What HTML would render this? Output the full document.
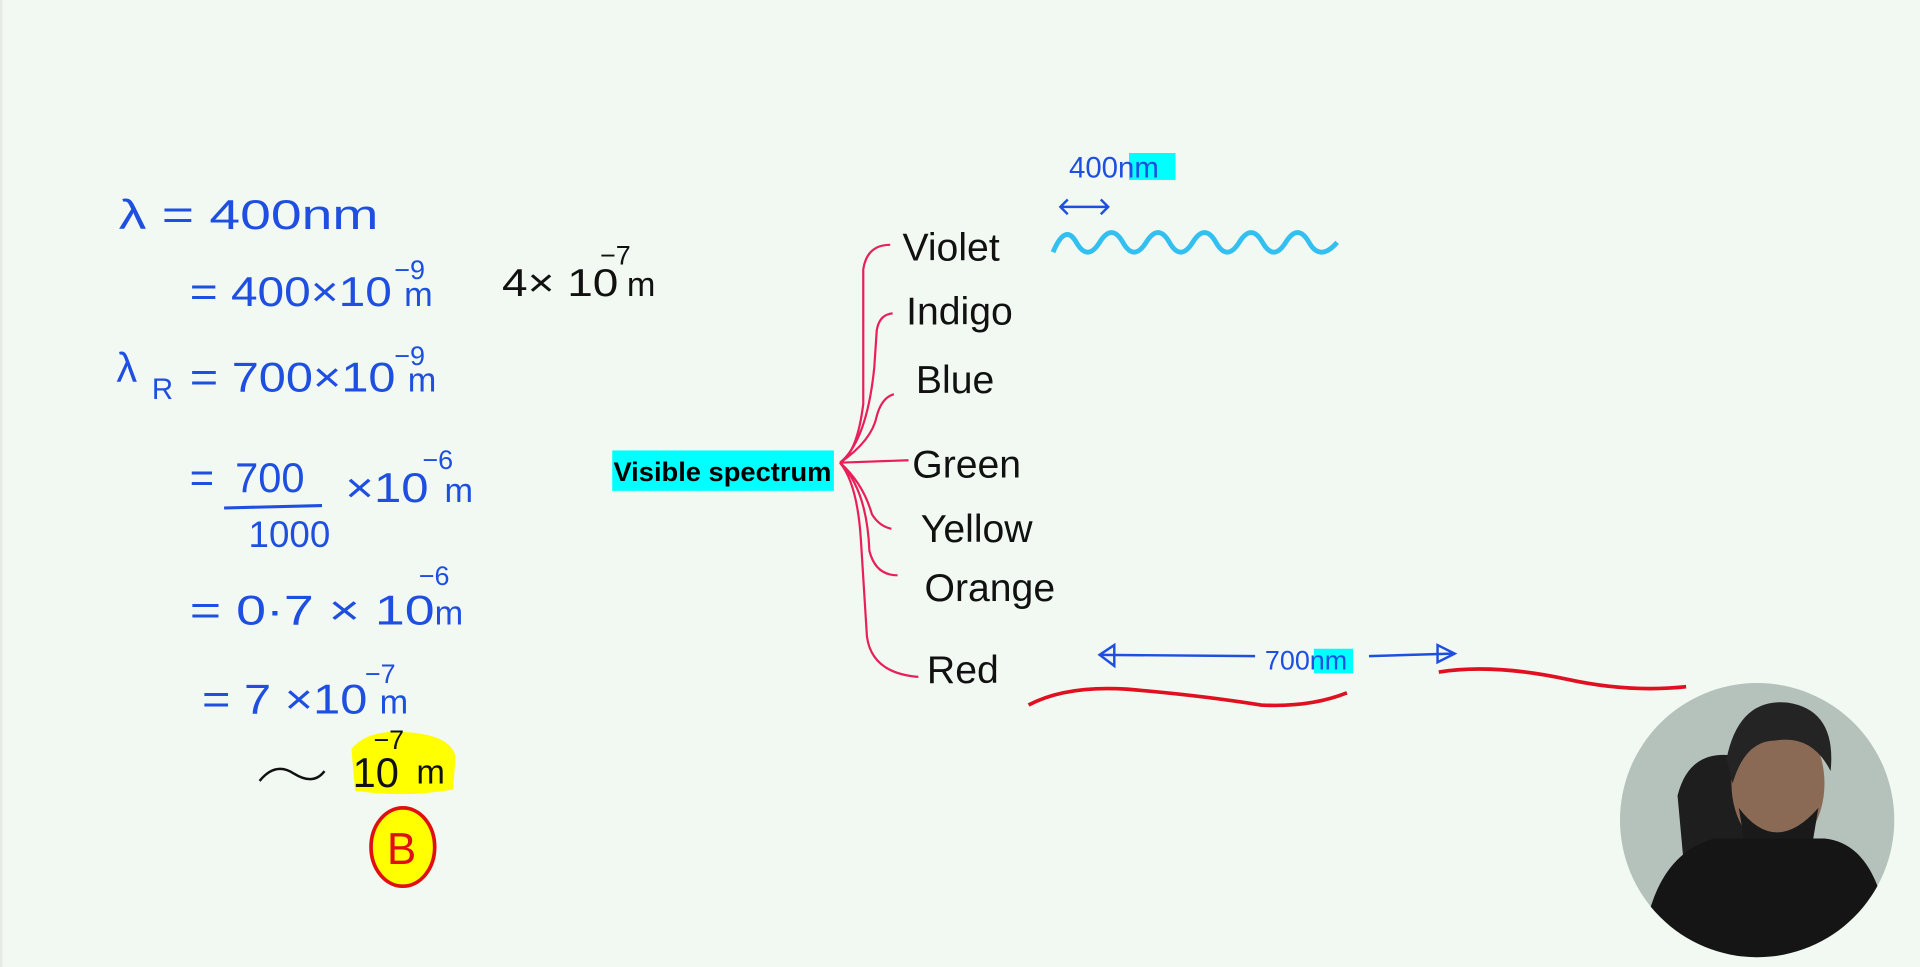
<!DOCTYPE html>
<html><head><meta charset="utf-8"><style>
html,body{margin:0;padding:0;background:#f2f9f2;width:1920px;height:967px;overflow:hidden}
svg{display:block}
.b{fill:#1f4fe0;font-family:"Liberation Sans",sans-serif}
.k{fill:#111;font-family:"Liberation Sans",sans-serif}
</style></head><body>
<svg width="1920" height="967" viewBox="0 0 1568 790" preserveAspectRatio="none" xmlns="http://www.w3.org/2000/svg">
<rect x="0" y="0" width="1568" height="790" fill="#f2f9f2"/>
<rect x="0" y="0" width="2" height="790" fill="#e6ebe6"/>
<g font-size="34">
<text class="b" x="97" y="187" textLength="212" lengthAdjust="spacingAndGlyphs">λ = 400nm</text>
<text class="b" x="155" y="250" textLength="165" lengthAdjust="spacingAndGlyphs">= 400×10</text><text class="b" x="322" y="228" font-size="22">−9</text><text class="b" x="330" y="250" font-size="28">m</text>
<text class="k" x="410" y="242" font-size="32" textLength="95" lengthAdjust="spacingAndGlyphs">4× 10</text><text class="k" x="490" y="216" font-size="22">−7</text><text class="k" x="512" y="242" font-size="28">m</text>
<text class="b" x="95" y="312">λ</text><text class="b" x="124" y="326" font-size="24">R</text>
<text class="b" x="155" y="320" textLength="168" lengthAdjust="spacingAndGlyphs">= 700×10</text><text class="b" x="322" y="298" font-size="22">−9</text><text class="b" x="333" y="320" font-size="28">m</text>
<text class="b" x="155" y="402">=</text><text class="b" x="192" y="402">700</text>
<line x1="183" y1="415" x2="263" y2="413" stroke="#1f4fe0" stroke-width="2.5"/>
<text class="b" x="203" y="447" font-size="30">1000</text>
<text class="b" x="282" y="410" textLength="68" lengthAdjust="spacingAndGlyphs">×10</text><text class="b" x="345" y="383" font-size="22">−6</text><text class="b" x="363" y="410" font-size="28">m</text>
<text class="b" x="155" y="510" textLength="200" lengthAdjust="spacingAndGlyphs">= 0·7 × 10</text><text class="b" x="342" y="478" font-size="22">−6</text><text class="b" x="355" y="510" font-size="28">m</text>
<text class="b" x="165" y="583" textLength="135" lengthAdjust="spacingAndGlyphs">= 7 ×10</text><text class="b" x="298" y="558" font-size="22">−7</text><text class="b" x="310" y="583" font-size="28">m</text>
</g>
<path d="M287 612 Q300 596 330 598 Q368 600 372 618 L370 645 Q330 652 290 646 Z" fill="#ffff00"/>
<path d="M212 638 Q225 622 240 632 Q256 642 265 630" stroke="#111" stroke-width="2" fill="none"/>
<text class="k" x="288" y="643" font-size="34">10</text><text class="k" x="305" y="612" font-size="22">−7</text><text class="k" x="340" y="640" font-size="28">m</text>
<ellipse cx="329" cy="692" rx="26" ry="32" fill="#ffff00" stroke="#e01010" stroke-width="3"/>
<text x="316" y="706" font-size="36" fill="#e01010" font-family="Liberation Sans,sans-serif">B</text>
<rect x="500" y="368" width="181" height="33" fill="#00ffff"/>
<text x="501" y="393" font-size="22" font-weight="bold" font-family="Liberation Sans,sans-serif" fill="#000" textLength="178" lengthAdjust="spacingAndGlyphs">Visible spectrum</text>
<g stroke="#e8205a" stroke-width="1.8" fill="none">
<path d="M686 378 Q700 370 705 330 L705 220 Q708 200 727 200"/>
<path d="M686 378 Q708 360 714 300 L716 270 Q718 257 729 256"/>
<path d="M686 378 Q712 360 716 340 Q720 325 730 322"/>
<path d="M686 378 L742 376"/>
<path d="M686 378 Q705 395 712 420 Q718 430 728 432"/>
<path d="M686 378 Q708 400 710 450 Q715 470 733 470"/>
<path d="M686 378 Q700 395 703 440 L708 520 Q712 550 750 553"/>
</g>
<g font-size="32">
<text class="k" x="737" y="213">Violet</text>
<text class="k" x="740" y="265">Indigo</text>
<text class="k" x="748" y="321">Blue</text>
<text class="k" x="745" y="390">Green</text>
<text class="k" x="752" y="443">Yellow</text>
<text class="k" x="755" y="491">Orange</text>
<text class="k" x="757" y="558">Red</text>
</g>
<path d="M860 206 Q870 182 879 198 T898 198 T917 198 T936 198 T955 198 T974 198 T993 198 T1012 198 T1031 198 T1050 198 T1069 198 T1092 198" stroke="#33c0f0" stroke-width="4" fill="none"/>
<rect x="922" y="125" width="38" height="22" fill="#00ffff"/>
<text class="b" x="873" y="145" font-size="24">400nm</text>
<g stroke="#1f4fe0" stroke-width="2" fill="none">
<path d="M866 169 L905 169 M872 163 L866 169 L872 175 M899 163 L905 169 L899 175"/>
<path d="M898 535 L1025 536 M1118 536 L1186 534"/>
<path d="M910 527 L898 535 L910 544 Z M1174 527 L1188 534 L1174 541 Z"/>
</g>
<rect x="1073" y="530" width="32" height="20" fill="#00ffff"/>
<text class="b" x="1033" y="547" font-size="22">700nm</text>
<path d="M840 576 Q870 560 920 563 Q980 568 1030 576 Q1070 578 1100 566" stroke="#e01020" stroke-width="3" fill="none"/>
<path d="M1175 549 Q1220 542 1280 555 Q1330 566 1377 561" stroke="#e01020" stroke-width="3" fill="none"/>
<defs><clipPath id="c"><circle cx="1435" cy="670" r="112"/></clipPath></defs>
<g clip-path="url(#c)">
<rect x="1320" y="555" width="230" height="230" fill="#b5c2bc"/>
<path d="M1370 650 Q1380 610 1420 618 L1440 700 L1380 760 Z" fill="#1e1e1e"/>
<ellipse cx="1452" cy="640" rx="38" ry="55" fill="#8a6a55"/>
<path d="M1410 620 Q1420 570 1460 574 Q1500 580 1495 630 Q1480 600 1450 605 Q1425 605 1415 640 Z" fill="#242424"/>
<path d="M1420 660 Q1450 700 1485 660 L1480 690 Q1450 715 1425 690 Z" fill="#1a1a1a"/>
<path d="M1340 790 Q1345 700 1400 685 L1490 685 Q1540 690 1545 790 Z" fill="#151515"/>
</g>
</svg>
</body></html>
